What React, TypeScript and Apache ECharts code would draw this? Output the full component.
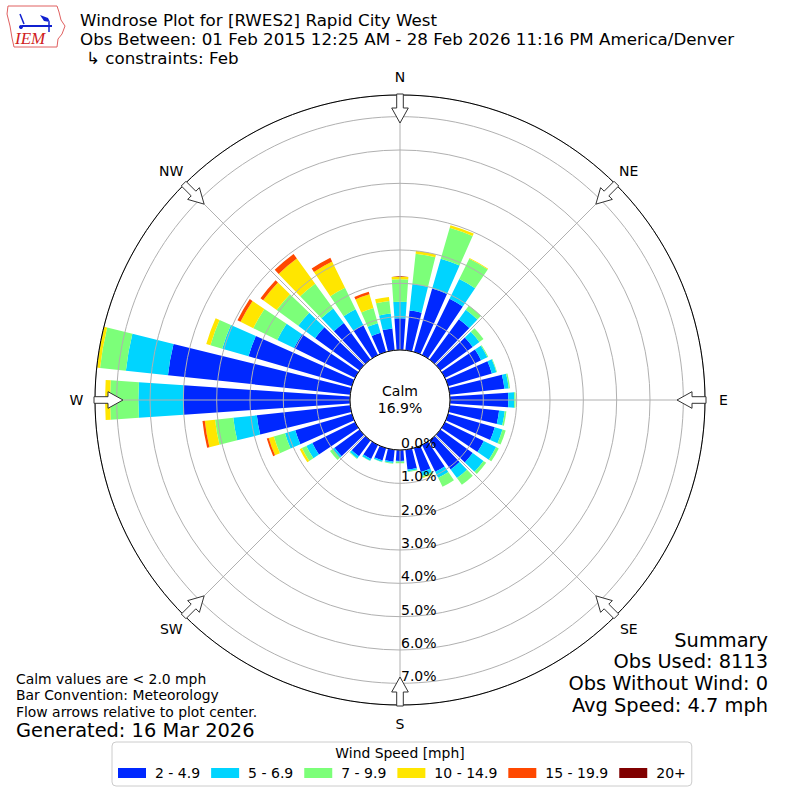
import React, { useEffect, useRef } from "react";
import * as echarts from "echarts";

// ---------------- data ----------------
const DIRECTIONS = [
  "0", "10", "20", "30", "40", "50", "60", "70", "80", "90", "100", "110",
  "120", "130", "140", "150", "160", "170", "180", "190", "200", "210", "220", "230",
  "240", "250", "260", "270", "280", "290", "300", "310", "320", "330", "340", "350",
];
const SPEED_BINS = ["2 - 4.9", "5 - 6.9", "7 - 9.9", "10 - 14.9", "15 - 19.9", "20+"];
const BIN_COLORS = ["#0028ff", "#00d4ff", "#7cff79", "#ffe600", "#ff4800", "#800000"];

// percent of observations, per 10-degree direction bin
const SPD_2_5 = [
  0.95, 1.2, 1.98, 1.88, 1.5, 1.2, 1.21, 1.37, 1.65, 1.75, 1.49, 1.46,
  1.3, 1.2, 1.08, 0.9, 0.75, 0.6, 0.33, 0.36, 0.39, 0.47, 0.59, 0.93,
  1.43, 1.77, 2.82, 5.0, 5.5, 3.23, 2.04, 1.65, 1.36, 1.0, 0.6, 0.66,
];
const SPD_5_7 = [
  0.5, 0.8, 0.93, 0.66, 0.35, 0.25, 0.21, 0.14, 0.13, 0.18, 0.17, 0.24,
  0.41, 0.4, 0.32, 0.2, 0.12, 0.05, 0.02, 0.04, 0.04, 0.06, 0.08, 0.07,
  0.2, 0.32, 0.71, 1.35, 1.27, 0.82, 0.56, 0.63, 0.54, 0.53, 0.3, 0.45,
];
const SPD_7_10 = [
  0.67, 0.91, 0.97, 0.68, 0.15, 0.15, 0.03, 0.02, 0.04, 0.04, 0.05, 0.1,
  0.09, 0.1, 0.25, 0.3, 0.05, 0.02, 0.05, 0.02, 0.01, 0.01, 0.02, 0.1,
  0.15, 0.35, 0.55, 0.85, 0.78, 0.37, 0.8, 0.8, 0.92, 0.72, 0.47, 0.38,
];
const SPD_10_15 = [
  0.08, 0.09, 0.08, 0.02, 0, 0, 0, 0, 0, 0, 0, 0,
  0, 0, 0, 0, 0.02, 0, 0, 0, 0, 0, 0, 0,
  0.07, 0.16, 0.31, 0.15, 0.1, 0.13, 0.43, 0.5, 0.93, 0.88, 0.43, 0.12,
];
const SPD_15_20 = [
  0, 0, 0, 0, 0, 0, 0, 0, 0, 0, 0, 0,
  0, 0, 0, 0, 0, 0, 0, 0, 0, 0, 0, 0,
  0, 0.06, 0.07, 0, 0, 0, 0.1, 0.1, 0.17, 0.12, 0.08, 0,
];
const SPD_20_UP = [
  0, 0, 0, 0, 0, 0, 0, 0, 0, 0, 0, 0,
  0, 0, 0, 0, 0, 0, 0, 0, 0, 0, 0, 0,
  0, 0, 0, 0, 0, 0, 0, 0, 0, 0, 0, 0,
];
const SPEED_SERIES = [SPD_2_5, SPD_5_7, SPD_7_10, SPD_10_15, SPD_15_20, SPD_20_UP];

const RADIAL_TICKS = [0, 1, 2, 3, 4, 5, 6, 7];
const R_MAX = 7.65;
const CALM_PCT = "16.9%";
const COMPASS: [string, number][] = [
  ["N", 0], ["NE", 45], ["E", 90], ["SE", 135],
  ["S", 180], ["SW", 225], ["W", 270], ["NW", 315],
];
const TITLE_LINES = [
  "Windrose Plot for [RWES2] Rapid City West",
  "Obs Between: 01 Feb 2015 12:25 AM - 28 Feb 2026 11:16 PM America/Denver",
  "↳ constraints: Feb",
];
const NOTES = [
  "Calm values are < 2.0 mph",
  "Bar Convention: Meteorology",
  "Flow arrows relative to plot center.",
];
const GENERATED = "Generated: 16 Mar 2026";
const SUMMARY = ["Summary", "Obs Used: 8113", "Obs Without Wind: 0", "Avg Speed: 4.7 mph"];

// ---------------- layout ----------------
const CX = 400;
const CY = 400;
const INNER = 50;
const OUTER = 305;
const FONT = '"DejaVu Sans", "Liberation Sans", sans-serif';

const rpx = (v: number) => INNER + (v / R_MAX) * (OUTER - INNER);

const txt = (
  text: string,
  x: number,
  y: number,
  size: number,
  align: string = "left",
  extra: any = {}
) => ({
  type: "text",
  x,
  y,
  z: 100,
  silent: true,
  style: {
    text,
    fill: "#000",
    font: `${size}px ${FONT}`,
    align,
    verticalAlign: "middle",
    lineHeight: Math.round(size * 1.02),
    ...extra,
  },
});

function arrowPoints(deg: number) {
  const t = (deg * Math.PI) / 180;
  const u = [Math.sin(t), -Math.cos(t)];
  const v = [Math.cos(t), Math.sin(t)];
  const local = [
    [306, -3.3], [292, -3.3], [292, -8.3], [277, 0],
    [292, 8.3], [292, 3.3], [306, 3.3],
  ];
  return local.map(([a, c]) => [CX + a * u[0] + c * v[0], CY + a * u[1] + c * v[1]]);
}

export default function App() {
  const ref = useRef<HTMLDivElement>(null);

  useEffect(() => {
    if (!ref.current) return;
    const chart = echarts.init(ref.current, undefined, { renderer: "svg" });

    const graphics: any[] = [];
    // calm circle
    graphics.push({
      type: "circle",
      z: 60,
      silent: true,
      shape: { cx: CX, cy: CY, r: INNER },
      style: { fill: "#fff", stroke: "#000", lineWidth: 1 },
    });
    // outer circle
    graphics.push({
      type: "circle",
      z: 60,
      silent: true,
      shape: { cx: CX, cy: CY, r: OUTER },
      style: { fill: "none", stroke: "#000", lineWidth: 1 },
    });
    graphics.push(txt("Calm", CX, CY - 9, 14, "center"));
    graphics.push(txt(CALM_PCT, CX, CY + 8, 14, "center"));
    // radial labels
    RADIAL_TICKS.forEach((v) => {
      graphics.push(txt(`${v.toFixed(1)}%`, CX + 1, CY + rpx(v) - 7, 14, "left"));
    });
    // compass labels and arrows
    COMPASS.forEach(([lab, deg]) => {
      const t = (deg * Math.PI) / 180;
      graphics.push(
        txt(lab, CX + 323.5 * Math.sin(t), CY - 323.5 * Math.cos(t), 14, "center")
      );
      graphics.push({
        type: "polygon",
        z: 90,
        silent: true,
        shape: { points: arrowPoints(deg) },
        style: { fill: "#ffffff", stroke: "#333", lineWidth: 1 },
      });
    });
    // titles
    graphics.push(txt(TITLE_LINES[0], 80, 20, 16.7));
    graphics.push(txt(TITLE_LINES[1], 80, 38.5, 16.7));
    graphics.push(txt(TITLE_LINES[2], 86, 58, 16.7));
    // notes
    NOTES.forEach((n, i) => graphics.push(txt(n, 16, 679 + i * 16.3, 13.9)));
    graphics.push(txt(GENERATED, 16, 730, 19.4));
    SUMMARY.forEach((s, i) => graphics.push(txt(s, 768, 640 + i * 21.8, 19.4, "right")));
    // legend title
    graphics.push(txt("Wind Speed [mph]", 400, 753, 13.9, "center"));
    // logo
    graphics.push({
      type: "polygon",
      z: 100,
      silent: true,
      shape: {
        points: [
          [8, 6], [57, 6], [59, 12], [61, 20], [65, 26], [62, 34],
          [58, 39], [57, 47], [14, 47], [12, 38], [10, 26], [7, 14],
        ],
      },
      style: { fill: "none", stroke: "#e06060", lineWidth: 1 },
    });
    graphics.push({
      type: "line",
      z: 100,
      silent: true,
      shape: { x1: 22, y1: 26, x2: 52, y2: 26 },
      style: { stroke: "#1020d0", lineWidth: 2 },
    });
    graphics.push({
      type: "line",
      z: 100,
      silent: true,
      shape: { x1: 20, y1: 14, x2: 24, y2: 24 },
      style: { stroke: "#1020d0", lineWidth: 1.5 },
    });
    graphics.push({
      type: "polygon",
      z: 100,
      silent: true,
      shape: { points: [[40, 15], [48, 18], [50, 22], [44, 21]] },
      style: { fill: "#1020d0" },
    });
    graphics.push({
      type: "line",
      z: 100,
      silent: true,
      shape: { x1: 49, y1: 22, x2: 49, y2: 32 },
      style: { stroke: "#1020d0", lineWidth: 1.5 },
    });
    graphics.push({
      type: "circle",
      z: 100,
      silent: true,
      shape: { cx: 21, cy: 27, r: 2 },
      style: { fill: "#1020d0" },
    });
    graphics.push({
      type: "text",
      x: 15,
      y: 38,
      z: 100,
      silent: true,
      style: {
        text: "IEM",
        fill: "#d02020",
        font: 'italic 17px "Liberation Serif", "DejaVu Serif", serif',
        align: "left",
        verticalAlign: "middle",
      },
    });

    const option: any = {
      animation: false,
      backgroundColor: "#fff",
      polar: [
        { center: [CX, CY], radius: [INNER, OUTER] },
        { center: [CX, CY], radius: [INNER, OUTER] },
      ],
      angleAxis: [
        {
          polarIndex: 0,
          type: "category",
          data: DIRECTIONS,
          startAngle: 95,
          clockwise: true,
          boundaryGap: true,
          axisLine: { show: false },
          axisTick: { show: false },
          axisLabel: { show: false },
          splitLine: { show: false },
        },
        {
          polarIndex: 1,
          type: "value",
          min: 0,
          max: 360,
          interval: 45,
          startAngle: 90,
          clockwise: true,
          z: 5,
          axisLine: { show: false },
          axisTick: { show: false },
          axisLabel: { show: false },
          splitLine: { show: true, lineStyle: { color: "#b0b0b0", width: 1 } },
        },
      ],
      radiusAxis: [
        {
          polarIndex: 0,
          type: "value",
          min: 0,
          max: R_MAX,
          axisLine: { show: false },
          axisTick: { show: false },
          axisLabel: { show: false },
          splitLine: { show: false },
        },
        {
          polarIndex: 1,
          type: "value",
          min: 0,
          max: R_MAX,
          interval: 1,
          z: 5,
          axisLine: { show: false },
          axisTick: { show: false },
          axisLabel: { show: false },
          splitLine: { show: true, lineStyle: { color: "#b0b0b0", width: 1 } },
        },
      ],
      legend: {
        left: 112,
        top: 742,
        orient: "horizontal",
        padding: [24, 6, 6, 6],
        itemWidth: 28,
        itemHeight: 10,
        itemGap: 11,
        icon: "rect",
        selectedMode: false,
        borderColor: "#cccccc",
        borderWidth: 1,
        borderRadius: 4,
        backgroundColor: "#fff",
        textStyle: { fontSize: 14, fontFamily: FONT, color: "#000", padding: [0, 0, 0, 4] },
        data: SPEED_BINS,
      },
      series: SPEED_SERIES.map((data, i) => ({
        type: "bar",
        name: SPEED_BINS[i],
        coordinateSystem: "polar",
        polarIndex: 0,
        stack: "wind",
        data,
        barWidth: "78%",
        itemStyle: { color: BIN_COLORS[i] },
        z: 2,
        silent: true,
      })),
      graphic: { elements: graphics },
    };

    chart.setOption(option);
    return () => chart.dispose();
  }, []);

  return (
    <div
      ref={ref}
      style={{ position: "absolute", left: 0, top: 0, width: 800, height: 800 }}
    />
  );
}
